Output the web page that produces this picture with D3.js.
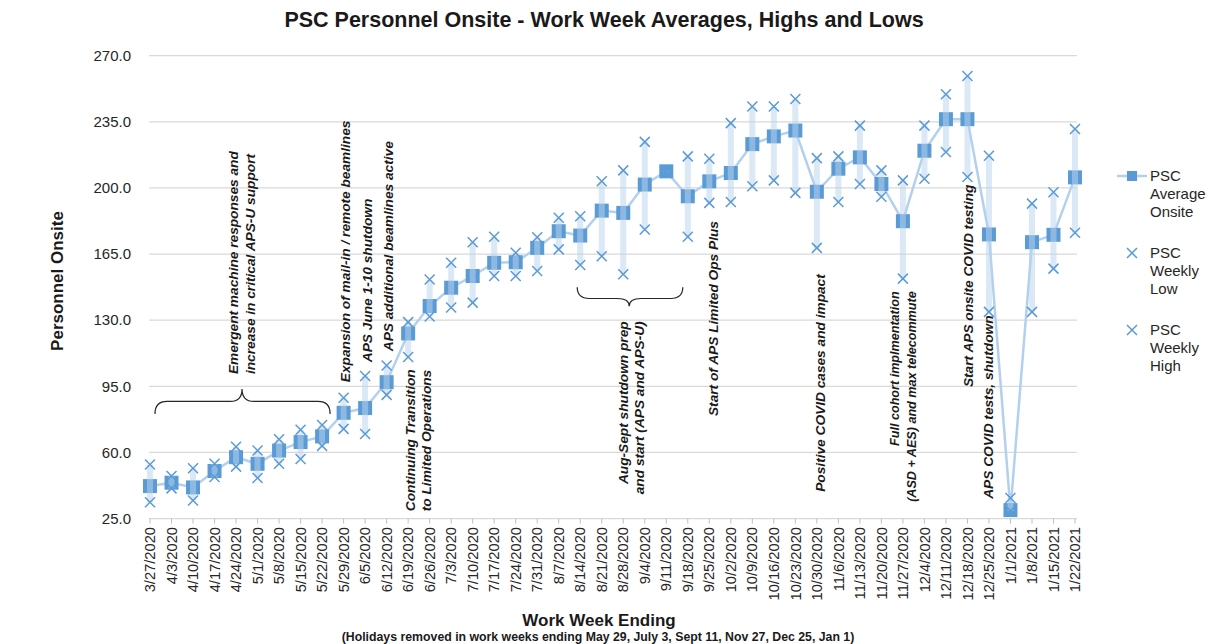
<!DOCTYPE html>
<html>
<head>
<meta charset="utf-8">
<script src="https://cdn.jsdelivr.net/npm/d3@7"></script>
<style>
body { margin: 0; background: #fff; }
text { font-family: "Liberation Sans", Arial, sans-serif; }
</style>
</head>
<body>
<div id="chart-area"></div>
<script>
// data
var weeks = ['3/27/2020','4/3/2020','4/10/2020','4/17/2020','4/24/2020','5/1/2020','5/8/2020','5/15/2020','5/22/2020',
	'5/29/2020','6/5/2020','6/12/2020','6/19/2020','6/26/2020','7/3/2020','7/10/2020','7/17/2020','7/24/2020','7/31/2020',
	'8/7/2020','8/14/2020','8/21/2020','8/28/2020','9/4/2020','9/11/2020','9/18/2020','9/25/2020','10/2/2020','10/9/2020',
	'10/16/2020','10/23/2020','10/30/2020','11/6/2020','11/13/2020','11/20/2020','11/27/2020','12/4/2020','12/11/2020',
	'12/18/2020','12/25/2020','1/1/2021','1/8/2021','1/15/2021','1/22/2021'];
var avgOnsite = [42.2, 44, 41.5, 50.2, 57.5, 54, 61, 65.5, 68.5, 81, 83.5, 97.2, 123, 137.5, 147.2, 153.4, 160.4, 160.7, 168.3,
	177.1, 174.8, 188, 186.8, 201.8, 208.8, 195.6, 203.5, 207.9, 223.2, 227.3, 230.4, 198, 210.2, 216.2, 202.1, 182.4, 219.7,
	236.4, 236.4, 175.4, 29.5, 171.3, 175.2, 205.6];
var weeklyLow = [33.7, 41, 34.6, 47, 52.5, 46.5, 54, 56.5, 63.5, 72.5, 69.8, 90.5, 110.5, 132, 136.7, 139.3, 153.4, 153.4, 156,
	167.5, 159.2, 163.9, 154.3, 178, 208, 174.2, 192.1, 192.6, 200.9, 204, 197.4, 168.3, 192.6, 202.1, 195.3, 152, 204.9,
	219, 205.8, 134.4, 29, 134.4, 157.3, 176.3];
var weeklyHigh = [53.6, 47.5, 51.6, 54, 63, 61, 67, 72, 74.5, 89, 100.5, 106, 129, 151.5, 160.4, 171.3, 174.2, 165.7, 173.9,
	184.2, 185, 203.5, 209.3, 224.4, 209.5, 216.7, 215.5, 234.3, 243.1, 243.1, 247.1, 215.8, 216.7, 233, 209.3, 204, 233,
	249.6, 259.3, 217, 35.9, 191.7, 197.7, 231.2];
var yTicks = [25, 60, 95, 130, 165, 200, 235, 270];

var notes = [
	{ week: '4/24/2020', dx: [-3, 14], value: 101.5, anchor: 'start', lines: ['Emergent machine responses and', 'increase in critical APS-U support'] },
	{ week: '5/29/2020', dx: [1.5], value: 97.2, anchor: 'start', lines: ['Expansion of mail-in / remote beamlines'] },
	{ week: '6/5/2020', dx: [2], value: 107.8, anchor: 'start', lines: ['APS June 1-10 shutdown'] },
	{ week: '6/12/2020', dx: [1.5], value: 113.6, anchor: 'start', lines: ['APS additional beamlines active'] },
	{ week: '6/19/2020', dx: [2, 18], value: 28.9, anchor: 'start', lines: ['Continuing Transition', 'to Limited Operations'] },
	{ week: '8/28/2020', dx: [0, 16], value: 129.4, anchor: 'end', lines: ['Aug-Sept shutdown prep', 'and start (APS and APS-U)'] },
	{ week: '9/25/2020', dx: [4], value: 79.3, anchor: 'start', lines: ['Start of APS Limited Ops Plus'] },
	{ week: '10/30/2020', dx: [3], value: 39.2, anchor: 'start', lines: ['Positive COVID cases and impact'] },
	{ week: '11/27/2020', dx: [-8, 9], value: 145.3, anchor: 'end', lines: ['Full cohort implmentation', '(ASD + AES) and max telecommute'], small: true },
	{ week: '12/18/2020', dx: [0.5], value: 94.6, anchor: 'start', lines: ['Start APS onsite COVID testing'] },
	{ week: '12/25/2020', dx: [-1], value: 35.5, anchor: 'start', lines: ['APS COVID tests, shutdown'] }
];

var data = weeks.map((w, i) => ({ week: w, avg: avgOnsite[i], low: weeklyLow[i], high: weeklyHigh[i] }));

var blue = '#5b9bd5';
var svg = d3.select('#chart-area').append('svg').attr('width', 1208).attr('height', 644);

var x = d3.scalePoint().domain(weeks).range([150, 1075]);
var y = d3.scaleLinear().domain([25, 270]).range([518.6, 55.7]);

// gridlines + y labels
svg.append('g').selectAll('line').data(yTicks).enter().append('line')
	.attr('x1', 149).attr('x2', 1077)
	.attr('y1', d => y(d)).attr('y2', d => y(d))
	.attr('stroke', '#d9d9d9').attr('stroke-width', 1.3);

svg.append('g').selectAll('text').data(yTicks).enter().append('text')
	.attr('x', 131).attr('y', d => y(d)).attr('dy', '0.35em')
	.attr('text-anchor', 'end').attr('font-size', '15px').attr('fill', '#262626')
	.text(d => d3.format('.1f')(d));

// x ticks + labels
svg.append('g').selectAll('line').data(weeks).enter().append('line')
	.attr('x1', d => x(d)).attr('x2', d => x(d))
	.attr('y1', y(25)).attr('y2', y(25) + 5)
	.attr('stroke', '#bfbfbf').attr('stroke-width', 1);

svg.append('g').selectAll('text').data(weeks).enter().append('text')
	.attr('transform', d => `translate(${x(d)}, 527) rotate(-90)`)
	.attr('dy', '0.35em').attr('text-anchor', 'end')
	.attr('font-size', '14.7px').attr('fill', '#262626')
	.text(d => d);

// average line
var line = d3.line().x(d => x(d.week)).y(d => y(d.avg));
svg.append('path').datum(data)
	.attr('d', line).attr('fill', 'none')
	.attr('stroke', '#b3d1ef').attr('stroke-width', 2.5);

// average squares
svg.append('g').selectAll('rect').data(data).enter().append('rect')
	.attr('x', d => x(d.week) - 7).attr('y', d => y(d.avg) - 7)
	.attr('width', 14).attr('height', 14)
	.attr('fill', blue);

// high-low bars
svg.append('g').selectAll('rect').data(data).enter().append('rect')
	.attr('x', d => x(d.week) - 3).attr('y', d => y(d.high))
	.attr('width', 6).attr('height', d => y(d.low) - y(d.high))
	.attr('fill', 'rgb(186,211,238)').attr('fill-opacity', 0.52);

// low / high crosses
var cross = 'M-5,-5L5,5M-5,5L5,-5';
[['low', weeklyLow], ['high', weeklyHigh]].forEach(s => {
	svg.append('g').selectAll('path').data(data).enter().append('path')
		.attr('transform', d => `translate(${x(d.week)}, ${y(d[s[0]])})`)
		.attr('d', cross).attr('stroke', blue).attr('stroke-width', 1.5).attr('fill', 'none');
});

// annotations
notes.forEach(n => {
	n.lines.forEach((t, i) => {
		var px = x(n.week) + n.dx[i];
		svg.append('text')
			.attr('transform', `translate(${px}, ${y(n.value)}) rotate(-90)`)
			.attr('dy', '0.35em').attr('text-anchor', n.anchor)
			.attr('font-size', n.small ? '12.6px' : '13.7px')
			.attr('font-weight', 'bold').attr('font-style', 'italic').attr('fill', '#1a1a1a')
			.text(t);
	});
});

// curly braces
function brace(x0, x1, xt, yEnd, yMid, yTip) {
	var r = 12;
	return `M${x0},${yEnd} Q${x0},${yMid} ${x0 + r},${yMid} L${xt - r},${yMid} Q${xt},${yMid} ${xt},${yTip}` +
		` Q${xt},${yMid} ${xt + r},${yMid} L${x1 - r},${yMid} Q${x1},${yMid} ${x1},${yEnd}`;
}
svg.append('path')
	.attr('d', brace(x('3/27/2020') + 5, x('5/22/2020') + 8, x('4/24/2020') + 6, y(80.4), y(87), y(93.6)))
	.attr('fill', 'none').attr('stroke', '#262626').attr('stroke-width', 1.2);
svg.append('path')
	.attr('d', brace(x('8/14/2020') - 3, x('9/18/2020') - 5, x('8/28/2020') + 6, y(147.4), y(141.5), y(137.4)))
	.attr('fill', 'none').attr('stroke', '#262626').attr('stroke-width', 1.2);

// legend
var lg = svg.append('g');
lg.append('line').attr('x1', 1117).attr('x2', 1147).attr('y1', 176).attr('y2', 176)
	.attr('stroke', '#b3d1ef').attr('stroke-width', 2.5);
lg.append('rect').attr('x', 1127).attr('y', 171).attr('width', 10).attr('height', 10).attr('fill', blue);
lg.append('path').attr('transform', 'translate(1132, 253)').attr('d', cross)
	.attr('stroke', blue).attr('stroke-width', 1.5);
lg.append('path').attr('transform', 'translate(1132, 330)').attr('d', cross)
	.attr('stroke', blue).attr('stroke-width', 1.5);
[[176, ['PSC', 'Average', 'Onsite']], [253, ['PSC', 'Weekly', 'Low']], [330, ['PSC', 'Weekly', 'High']]].forEach(e => {
	e[1].forEach((t, i) => {
		lg.append('text').attr('x', 1150).attr('y', e[0] + i * 18).attr('dy', '0.35em')
			.attr('font-size', '15px').attr('fill', '#262626').text(t);
	});
});

// titles
svg.append('text').attr('x', 604).attr('y', 27).attr('text-anchor', 'middle')
	.attr('font-size', '21.5px').attr('font-weight', 'bold').attr('fill', '#1a1a1a')
	.text('PSC Personnel Onsite - Work Week Averages, Highs and Lows');

svg.append('text').attr('transform', 'translate(57, 281) rotate(-90)').attr('dy', '0.35em')
	.attr('text-anchor', 'middle').attr('font-size', '17px').attr('font-weight', 'bold').attr('fill', '#1a1a1a')
	.text('Personnel Onsite');

svg.append('text').attr('x', 599).attr('y', 626).attr('text-anchor', 'middle')
	.attr('font-size', '17px').attr('font-weight', 'bold').attr('fill', '#1a1a1a')
	.text('Work Week Ending');

svg.append('text').attr('x', 598).attr('y', 641).attr('text-anchor', 'middle')
	.attr('font-size', '12.3px').attr('font-weight', 'bold').attr('fill', '#1a1a1a')
	.text('(Holidays removed in work weeks ending May 29, July 3, Sept 11, Nov 27, Dec 25, Jan 1)');
</script>
</body>
</html>
